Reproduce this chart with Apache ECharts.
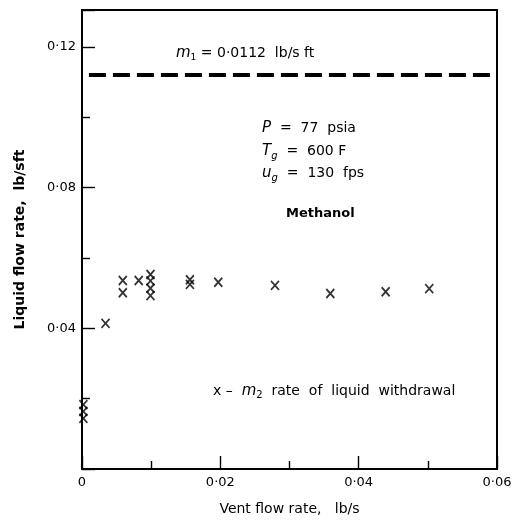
<!DOCTYPE html>
<html>
<head>
<meta charset="utf-8">
<script src="https://cdn.jsdelivr.net/npm/echarts@6/dist/echarts.min.js"></script>
<style>
  html, body { margin: 0; padding: 0; background: #fff; }
  #chart { width: 531px; height: 521px; }
</style>
</head>
<body>
<div id="chart"></div>
<script>
  // vent flow rate (lb/s) vs liquid withdrawal m2 (lb/s ft)
  const ventFlow = [0.0002, 0.0002, 0.0002, 0.0034, 0.0059, 0.0059, 0.0082,
    0.0099, 0.0099, 0.0099, 0.0099, 0.0156, 0.0156, 0.0197, 0.0279, 0.0359, 0.0439, 0.0502]
  const withdrawal = [0.0183, 0.0164, 0.0144, 0.0414, 0.0536, 0.0501, 0.0536,
    0.0553, 0.0535, 0.0514, 0.0493, 0.0538, 0.0525, 0.0531, 0.0522, 0.0499, 0.0504, 0.0513]
  // m1 supply level, dashed line
  const m1Span = [0.001, 0.06]
  const m1Level = 0.112
  // tick labels
  const xTickVals = [0, 0.02, 0.04, 0.06]
  const xTickLabels = ['0', '0·02', '0·04', '0·06']
  const yTickVals = [0.04, 0.08, 0.12]
  const yTickLabels = ['0·04', '0·08', '0·12']

  const font = 'DejaVu Sans'
  const ink = '#000'

  function tickLabel(vals, labels) {
    return function (v) {
      for (let i = 0; i < vals.length; i++) {
        if (Math.abs(v - vals[i]) < 1e-6) return labels[i]
      }
      return ''
    }
  }

  const option = {
    animation: false,
    grid: {
      left: 82, right: 34, top: 10, bottom: 45,
      show: true, borderColor: ink, borderWidth: 2
    },
    xAxis: {
      type: 'value', min: 0, max: 0.06, interval: 0.02,
      name: 'Vent flow rate,   lb/s', nameLocation: 'middle', nameGap: 33,
      nameTextStyle: { fontFamily: font, fontSize: 14, color: ink },
      axisLine: { lineStyle: { color: ink, width: 2 } },
      axisTick: { inside: true, length: 13, lineStyle: { color: ink, width: 1.4 } },
      minorTick: { show: true, splitNumber: 2, length: 8, lineStyle: { color: ink, width: 1.4 } },
      splitLine: { show: false },
      axisLabel: { fontFamily: font, fontSize: 13, color: ink, margin: 7,
        formatter: tickLabel(xTickVals, xTickLabels) }
    },
    yAxis: {
      type: 'value', min: 0, max: 0.1305, interval: 0.04,
      name: 'Liquid flow rate,  lb/sft', nameLocation: 'middle', nameGap: 55,
      nameTextStyle: { fontFamily: font, fontSize: 14, color: ink, fontWeight: 'bold' },
      axisLine: { lineStyle: { color: ink, width: 2 } },
      axisTick: { inside: true, length: 13, lineStyle: { color: ink, width: 1.4 } },
      minorTick: { show: true, splitNumber: 2, length: 8, lineStyle: { color: ink, width: 1.4 } },
      splitLine: { show: false },
      axisLabel: { fontFamily: font, fontSize: 13, color: ink, margin: 6,
        showMaxLabel: false, formatter: tickLabel(yTickVals, yTickLabels) }
    },
    series: [
      {
        name: 'm1',
        type: 'line',
        data: m1Span.map(x => [x, m1Level]),
        symbol: 'none',
        lineStyle: { color: ink, width: 4, type: [17, 7] }
      },
      {
        name: 'm2',
        type: 'scatter',
        data: ventFlow.map((x, i) => [x, withdrawal[i]]),
        symbol: 'path://M0,0L10,12M10,0L0,12',
        symbolSize: [8, 9],
        itemStyle: { color: 'rgba(0,0,0,0)', borderColor: ink, borderWidth: 1.8 }
      }
    ],
    graphic: [
      { type: 'text', left: 176, top: 46, style: {
        text: '{i|m}{s|1} = 0·0112  lb/s ft',
        fontFamily: font, fontSize: 14, fill: ink,
        rich: { i: { fontStyle: 'italic', fontSize: 15, fontFamily: font },
                s: { fontSize: 9, fontFamily: font, verticalAlign: 'bottom', padding: [8, 0, 0, 0] } } } },
      { type: 'text', left: 262, top: 121, style: {
        text: '{i|P}  =  77  psia',
        fontFamily: font, fontSize: 14, fill: ink,
        rich: { i: { fontStyle: 'italic', fontSize: 15, fontFamily: font } } } },
      { type: 'text', left: 262, top: 144, style: {
        text: '{i|T}{s|g}  =  600 F',
        fontFamily: font, fontSize: 14, fill: ink,
        rich: { i: { fontStyle: 'italic', fontSize: 15, fontFamily: font },
                s: { fontStyle: 'italic', fontSize: 10, fontFamily: font, padding: [10, 0, 0, 0] } } } },
      { type: 'text', left: 262, top: 166, style: {
        text: '{i|u}{s|g}  =  130  fps',
        fontFamily: font, fontSize: 14, fill: ink,
        rich: { i: { fontStyle: 'italic', fontSize: 15, fontFamily: font },
                s: { fontStyle: 'italic', fontSize: 10, fontFamily: font, padding: [10, 0, 0, 0] } } } },
      { type: 'text', left: 286, top: 207, style: {
        text: 'Methanol', fontFamily: font, fontSize: 13, fontWeight: 'bold', fill: ink } },
      { type: 'text', left: 213, top: 384, style: {
        text: 'x –  {i|m}{s|2}  rate  of  liquid  withdrawal',
        fontFamily: font, fontSize: 14, fill: ink,
        rich: { i: { fontStyle: 'italic', fontSize: 15, fontFamily: font },
                s: { fontSize: 10, fontFamily: font, padding: [8, 0, 0, 0] } } } }
    ]
  }

  const myChart = echarts.init(document.getElementById('chart'))
  myChart.setOption(option, true)
</script>
</body>
</html>
